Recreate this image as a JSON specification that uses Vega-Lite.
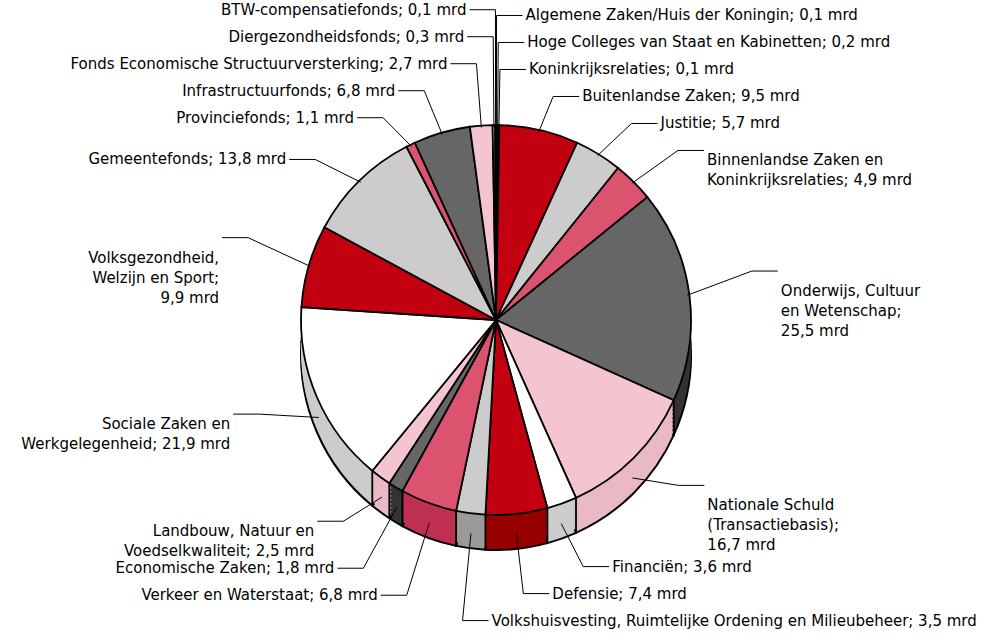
{
  "$schema": "https://vega.github.io/schema/vega-lite/v6.json",
  "width": 992,
  "height": 640,
  "padding": 0,
  "autosize": {"type": "none"},
  "config": {"view": {"stroke": null}},
  "data": {
    "values": [
      {"idx": 0, "label": "Algemene Zaken/Huis der Koningin; 0,1 mrd", "value": 0.1},
      {"idx": 1, "label": "Hoge Colleges van Staat en Kabinetten; 0,2 mrd", "value": 0.2},
      {"idx": 2, "label": "Koninkrijksrelaties; 0,1 mrd", "value": 0.1},
      {"idx": 3, "label": "Buitenlandse Zaken; 9,5 mrd", "value": 9.5},
      {"idx": 4, "label": "Justitie; 5,7 mrd", "value": 5.7},
      {"idx": 5, "label": "Binnenlandse Zaken en\nKoninkrijksrelaties; 4,9 mrd", "value": 4.9},
      {"idx": 6, "label": "Onderwijs, Cultuur\nen Wetenschap;\n25,5 mrd", "value": 25.5},
      {"idx": 7, "label": "Nationale Schuld\n(Transactiebasis);\n16,7 mrd", "value": 16.7},
      {"idx": 8, "label": "Financiën; 3,6 mrd", "value": 3.6},
      {"idx": 9, "label": "Defensie; 7,4 mrd", "value": 7.4},
      {"idx": 10, "label": "Volkshuisvesting, Ruimtelijke Ordening en Milieubeheer; 3,5 mrd", "value": 3.5},
      {"idx": 11, "label": "Verkeer en Waterstaat; 6,8 mrd", "value": 6.8},
      {"idx": 12, "label": "Economische Zaken; 1,8 mrd", "value": 1.8},
      {"idx": 13, "label": "Landbouw, Natuur en\nVoedselkwaliteit; 2,5 mrd", "value": 2.5},
      {"idx": 14, "label": "Sociale Zaken en\nWerkgelegenheid; 21,9 mrd", "value": 21.9},
      {"idx": 15, "label": "Volksgezondheid,\nWelzijn en Sport;\n9,9 mrd", "value": 9.9},
      {"idx": 16, "label": "Gemeentefonds; 13,8 mrd", "value": 13.8},
      {"idx": 17, "label": "Provinciefonds; 1,1 mrd", "value": 1.1},
      {"idx": 18, "label": "Infrastructuurfonds; 6,8 mrd", "value": 6.8},
      {"idx": 19, "label": "Fonds Economische Structuurversterking; 2,7 mrd", "value": 2.7},
      {"idx": 20, "label": "Diergezondheidsfonds; 0,3 mrd", "value": 0.3},
      {"idx": 21, "label": "BTW-compensatiefonds; 0,1 mrd", "value": 0.1}
    ]
  },
  "transform": [
    {"joinaggregate": [{"op": "sum", "field": "value", "as": "total"}]},
    {"window": [{"op": "sum", "field": "value", "as": "cum"}], "sort": [{"field": "idx"}], "frame": [null, 0]},
    {"calculate": "(datum.cum - datum.value/2)/datum.total*2*PI", "as": "mid"},
    {"calculate": "(datum.cum - datum.value)/datum.total*2*PI", "as": "b0"},
    {"calculate": "length(split(datum.label, '\\n'))", "as": "nl"},
    {"calculate": "(sin(datum.mid) > 0 || (sin(datum.mid) > -0.2 && cos(datum.mid) < 0)) ? 1 : -1", "as": "side"},
    {"calculate": "cos(datum.mid) > 0 ? -1 : 1", "as": "half"},
    {"calculate": "cos(datum.mid) > 0 ? -cos(datum.mid)*225 : -cos(datum.mid)*262", "as": "y0"},
    {"calculate": "datum.nl*20 + 7", "as": "h"},
    {"calculate": "datum.side*datum.half*datum.mid", "as": "sk"},
    {"window": [{"op": "sum", "field": "h", "as": "H"}], "groupby": ["side", "half"], "sort": [{"field": "sk"}], "frame": [null, 0]},
    {"calculate": "datum.H - datum.h/2", "as": "s"},
    {"calculate": "datum.half*datum.y0 - datum.s", "as": "u"},
    {"window": [{"op": "max", "field": "u", "as": "cm"}], "groupby": ["side", "half"], "sort": [{"field": "sk"}], "frame": [null, 0]},
    {"calculate": "datum.half*(datum.s + datum.cm)", "as": "yc"},
    {"calculate": "datum.yc - (datum.nl - 1)*20/2", "as": "yl"},
    {"calculate": "sin(datum.mid)*258", "as": "xe"},
    {"calculate": "datum.xe + datum.side*26", "as": "xs"},
    {"calculate": "datum.xe + datum.side*29", "as": "xt"},
    {"calculate": "sin(datum.mid)*193", "as": "xa"},
    {"calculate": "cos(datum.mid) > 0 ? -cos(datum.mid)*193 : -cos(datum.mid)*195 + 20", "as": "ya"},
    {"calculate": "sin(datum.b0)*195", "as": "xb"},
    {"calculate": "-cos(datum.b0)*195", "as": "yb"},
    {"calculate": "datum.yb + 35", "as": "yb2"}
  ],
  "layer": [
    {
      "mark": {"type": "arc", "outerRadius": 195, "yOffset": 35, "stroke": "black", "strokeWidth": 2},
      "encoding": {
        "theta": {"field": "value", "type": "quantitative", "stack": true},
        "order": {"field": "idx", "type": "quantitative"},
        "fill": {"field": "idx", "type": "nominal", "legend": null, "scale": {"domain": [0,1,2,3,4,5,6,7,8,9,10,11,12,13,14,15,16,17,18,19,20,21], "range": ["#333333","#e9b9c4","#cccccc","#960000","#999999","#bf3050","#333333","#e9b9c4","#cccccc","#960000","#999999","#bf3050","#333333","#e9b9c4","#cccccc","#960000","#999999","#bf3050","#333333","#e9b9c4","#cccccc","#960000"]}}
      }
    },
    {"mark": {"type": "arc", "outerRadius": 195, "yOffset": 31, "strokeWidth": 0}, "encoding": {"theta": {"field": "value", "type": "quantitative", "stack": true}, "order": {"field": "idx", "type": "quantitative"}, "fill": {"field": "idx", "type": "nominal", "legend": null}}},
    {"mark": {"type": "arc", "outerRadius": 195, "yOffset": 27, "strokeWidth": 0}, "encoding": {"theta": {"field": "value", "type": "quantitative", "stack": true}, "order": {"field": "idx", "type": "quantitative"}, "fill": {"field": "idx", "type": "nominal", "legend": null}}},
    {"mark": {"type": "arc", "outerRadius": 195, "yOffset": 23, "strokeWidth": 0}, "encoding": {"theta": {"field": "value", "type": "quantitative", "stack": true}, "order": {"field": "idx", "type": "quantitative"}, "fill": {"field": "idx", "type": "nominal", "legend": null}}},
    {"mark": {"type": "arc", "outerRadius": 195, "yOffset": 19, "strokeWidth": 0}, "encoding": {"theta": {"field": "value", "type": "quantitative", "stack": true}, "order": {"field": "idx", "type": "quantitative"}, "fill": {"field": "idx", "type": "nominal", "legend": null}}},
    {"mark": {"type": "arc", "outerRadius": 195, "yOffset": 15, "strokeWidth": 0}, "encoding": {"theta": {"field": "value", "type": "quantitative", "stack": true}, "order": {"field": "idx", "type": "quantitative"}, "fill": {"field": "idx", "type": "nominal", "legend": null}}},
    {"mark": {"type": "arc", "outerRadius": 195, "yOffset": 11, "strokeWidth": 0}, "encoding": {"theta": {"field": "value", "type": "quantitative", "stack": true}, "order": {"field": "idx", "type": "quantitative"}, "fill": {"field": "idx", "type": "nominal", "legend": null}}},
    {"mark": {"type": "arc", "outerRadius": 195, "yOffset": 7, "strokeWidth": 0}, "encoding": {"theta": {"field": "value", "type": "quantitative", "stack": true}, "order": {"field": "idx", "type": "quantitative"}, "fill": {"field": "idx", "type": "nominal", "legend": null}}},
    {"mark": {"type": "arc", "outerRadius": 195, "yOffset": 3, "strokeWidth": 0}, "encoding": {"theta": {"field": "value", "type": "quantitative", "stack": true}, "order": {"field": "idx", "type": "quantitative"}, "fill": {"field": "idx", "type": "nominal", "legend": null}}},
    {
      "mark": {"type": "arc", "outerRadius": 195, "stroke": "black", "strokeWidth": 1.8},
      "encoding": {
        "theta": {"field": "value", "type": "quantitative", "stack": true},
        "order": {"field": "idx", "type": "quantitative"},
        "color": {"field": "idx", "type": "nominal", "legend": null, "scale": {"domain": [0,1,2,3,4,5,6,7,8,9,10,11,12,13,14,15,16,17,18,19,20,21], "range": ["#666666","#f4c4cf","#ffffff","#c3000f","#cccccc","#dc5370","#666666","#f4c4cf","#ffffff","#c3000f","#cccccc","#dc5370","#666666","#f4c4cf","#ffffff","#c3000f","#cccccc","#dc5370","#666666","#f4c4cf","#ffffff","#c3000f"]}}
      }
    },
    {
      "transform": [{"filter": "cos(datum.b0) < -0.001"}],
      "mark": {"type": "rule", "color": "black", "strokeWidth": 1.8},
      "encoding": {
        "x": {"field": "xb", "type": "quantitative", "axis": null, "scale": {"domain": [-496, 496], "nice": false, "zero": false}},
        "y": {"field": "yb", "type": "quantitative", "axis": null, "scale": {"domain": [-320, 320], "nice": false, "zero": false, "reverse": true}},
        "y2": {"field": "yb2"}
      }
    },
    {
      "mark": {"type": "rule", "color": "black", "strokeWidth": 1},
      "encoding": {
        "x": {"field": "xa", "type": "quantitative", "axis": null, "scale": {"domain": [-496, 496], "nice": false, "zero": false}},
        "y": {"field": "ya", "type": "quantitative", "axis": null, "scale": {"domain": [-320, 320], "nice": false, "zero": false, "reverse": true}},
        "x2": {"field": "xe"},
        "y2": {"field": "yl"}
      }
    },
    {
      "mark": {"type": "rule", "color": "black", "strokeWidth": 1},
      "encoding": {
        "x": {"field": "xe", "type": "quantitative", "axis": null, "scale": {"domain": [-496, 496], "nice": false, "zero": false}},
        "y": {"field": "yl", "type": "quantitative", "axis": null, "scale": {"domain": [-320, 320], "nice": false, "zero": false, "reverse": true}},
        "x2": {"field": "xs"}
      }
    },
    {
      "transform": [{"filter": "datum.side == 1"}],
      "mark": {"type": "text", "align": "left", "baseline": "middle", "font": "DejaVu Sans", "fontSize": 15, "lineHeight": 20, "lineBreak": "\n", "color": "black"},
      "encoding": {
        "x": {"field": "xt", "type": "quantitative", "axis": null, "scale": {"domain": [-496, 496], "nice": false, "zero": false}},
        "y": {"field": "yc", "type": "quantitative", "axis": null, "scale": {"domain": [-320, 320], "nice": false, "zero": false, "reverse": true}},
        "text": {"field": "label"}
      }
    },
    {
      "transform": [{"filter": "datum.side == -1"}],
      "mark": {"type": "text", "align": "right", "baseline": "middle", "font": "DejaVu Sans", "fontSize": 15, "lineHeight": 20, "lineBreak": "\n", "color": "black"},
      "encoding": {
        "x": {"field": "xt", "type": "quantitative", "axis": null, "scale": {"domain": [-496, 496], "nice": false, "zero": false}},
        "y": {"field": "yc", "type": "quantitative", "axis": null, "scale": {"domain": [-320, 320], "nice": false, "zero": false, "reverse": true}},
        "text": {"field": "label"}
      }
    }
  ]
}
